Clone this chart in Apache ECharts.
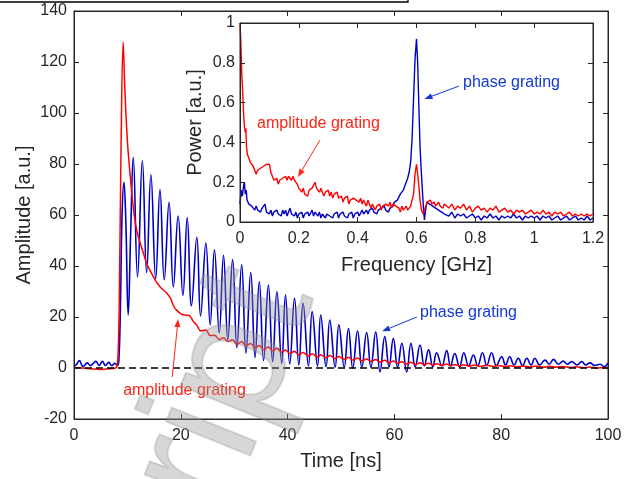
<!DOCTYPE html>
<html><head><meta charset="utf-8">
<script src="https://cdn.jsdelivr.net/npm/echarts@6/dist/echarts.min.js"></script>
<style>html,body{margin:0;padding:0;background:#fff}#c{width:636px;height:479px}</style>
</head><body><div id="c"></div>
<script>
// ---- main plot: Time [ns] vs Amplitude [a.u.] ----
const timeRange = [0, 100, 20];
const ampRange = [-20, 140, 20];
const phaseMain = [[0,0.6],[0.5,1.5],[1.0,2.9],[1.7,0.6],[2.5,2.0],[3.1,0.9],[3.6,1.8],[4.1,2.6],[4.7,1.0],[5.3,2.6],[5.9,1.0],[6.5,2.2],[7.1,0.9],[7.6,1.8],[8.1,1.0],[8.4,3],[8.7,25],[9.0,60],[9.35,72.8],[9.7,58],[10.15,20.8],[10.6,52],[11.1,82.6],[11.9,35.7],[12.8,81.4],[13.6,37.4],[14.4,75.8],[15.3,35.0],[16.1,70.0],[16.9,34.6],[17.8,65.0],[18.6,31.8],[19.5,59.6],[20.4,28.5],[21.2,59.0],[22.0,24.4],[23.0,51.3],[23.7,20.4],[24.7,49.0],[25.5,16.9],[26.3,46.4],[27.2,13.8],[28.0,44.2],[28.8,11.0],[29.7,42.5],[30.5,8.0],[31.4,40.6],[32.2,5.8],[33.1,37.4],[33.9,4.1],[34.7,33.8],[35.5,2.9],[36.4,32.5],[37.2,2.5],[38.0,29.9],[38.9,1.8],[39.6,28.6],[40.4,1.6],[41.3,27.3],[42.1,1.2],[42.9,25.4],[43.9,0.8],[44.6,22.1],[45.6,0.8],[46.2,20.8],[47.2,0.5],[47.9,18.8],[48.9,0.3],[49.6,16.9],[50.6,0.3],[51.4,15.5],[52.2,-0.1],[53.1,14.5],[53.9,0.3],[54.8,13.9],[55.6,0.3],[56.5,14.1],[57.3,-1.5],[58.2,12.3],[59.0,0.5],[59.8,11.6],[60.6,0.3],[61.4,9.7],[62.3,-1.5],[63.1,9.7],[63.9,0.5],[64.8,9.0],[65.6,0.8],[66.4,7.1],[67.2,0.5],[67.9,6.0],[68.9,0.8],[69.8,6.8],[70.5,0.8],[71.3,5.7],[72.2,0.5],[73.0,6.0],[73.9,0.8],[74.8,5.1],[75.6,0.8],[76.5,6.0],[77.3,1.0],[78.2,6.0],[79.1,1.0],[80.1,4.4],[80.8,1.2],[81.6,4.4],[82.4,1.2],[83.2,3.8],[84.0,1.0],[84.8,3.8],[85.6,1.2],[86.3,3.8],[87.2,1.2],[88.2,3.1],[89.0,1.5],[89.8,3.4],[90.7,1.5],[91.6,2.7],[92.4,1.5],[93.2,2.5],[94.2,1.2],[95.1,2.5],[95.8,1.2],[96.6,2.0],[97.5,1.0],[98.5,1.5],[99.3,0.5],[100,2.0]];
const amplitudeMain = [[0,0.2],[1,0.1],[2,-0.1],[3,-0.3],[4,-0.4],[5,-0.6],[6,-0.4],[7,-0.2],[7.8,0],[8.2,3],[8.5,30],[8.8,85],[9.2,127.8],[9.55,108],[10.0,89],[10.5,76],[11.1,63],[11.7,54.5],[12.4,49],[13.0,45],[13.6,41],[14.2,38.4],[15.2,34.5],[16.1,31.9],[17.4,29.3],[18.1,27.2],[18.6,24.5],[19.2,22.7],[20.2,21.0],[21.0,20.7],[21.7,20.4],[22.3,18.4],[23.0,16.8],[23.7,14.6],[24.7,14.9],[25.5,12.7],[26.3,12.8],[27.2,11.2],[28.0,11.9],[28.8,10.4],[29.7,11.1],[30.5,9.3],[31.4,10.4],[32.2,8.7],[33.1,9.6],[33.9,7.9],[34.7,8.8],[35.5,7.2],[36.4,8.2],[37.2,6.7],[38.0,7.7],[38.9,6.2],[39.6,7.1],[40.4,5.7],[41.3,6.6],[42.1,5.1],[42.9,6.1],[43.9,4.7],[44.6,5.6],[45.6,4.3],[46.2,5.2],[47.2,4.0],[47.9,4.9],[48.9,3.7],[49.6,4.5],[50.6,3.4],[51.4,4.2],[52.2,3.1],[53.1,3.9],[53.9,2.8],[54.8,3.5],[55.6,2.6],[56.5,3.3],[57.3,2.3],[58.2,3.0],[59.0,2.1],[59.8,2.7],[60.6,1.9],[61.4,2.5],[62.3,1.6],[63.1,2.3],[63.9,1.4],[64.8,2.1],[65.6,1.3],[66.4,1.9],[67.2,1.1],[67.9,1.7],[68.9,1.0],[69.8,1.6],[70.5,0.9],[71.3,1.4],[72.2,0.8],[73.0,1.3],[74.0,0.7],[75.0,1.2],[76.0,0.6],[77.3,1.1],[78.5,0.6],[79.5,1.0],[80.8,0.5],[81.6,0.9],[83.0,0.4],[84.0,0.8],[85.5,0.4],[86.5,0.8],[88.0,0.3],[89.0,0.7],[90.5,0.3],[91.5,0.6],[93.0,0.2],[94.0,0.5],[95.5,0.1],[96.5,0.4],[98.0,0.0],[99.0,0.2],[100,-0.3]];
const zeroLine = [[0,0],[100,0]];

// ---- inset: Frequency [GHz] vs Power [a.u.] ----
const freqRange = [0, 1.2, 0.2];
const powerRange = [0, 1, 0.2];
const amplitudeSpec = [[0,1.0],[0.003,0.9],[0.006,0.75],[0.009,0.66],[0.012,0.55],[0.015,0.48],[0.018,0.45],[0.02,0.47],[0.022,0.38],[0.025,0.34],[0.03,0.32],[0.035,0.30],[0.04,0.31],[0.045,0.28],[0.05,0.29],[0.055,0.24],[0.06,0.26],[0.065,0.25],[0.07,0.27],[0.075,0.26],[0.08,0.28],[0.085,0.27],[0.09,0.29],[0.095,0.28],[0.1,0.29],[0.105,0.25],[0.11,0.23],[0.115,0.21],[0.12,0.20],[0.125,0.22],[0.13,0.19],[0.135,0.21],[0.14,0.20],[0.145,0.22],[0.15,0.21],[0.155,0.23],[0.16,0.21],[0.165,0.23],[0.17,0.22],[0.175,0.21],[0.18,0.23],[0.185,0.21],[0.19,0.22],[0.195,0.19],[0.2,0.17],[0.205,0.18],[0.21,0.15],[0.215,0.17],[0.22,0.14],[0.225,0.15],[0.23,0.13],[0.235,0.16],[0.24,0.15],[0.245,0.17],[0.25,0.16],[0.255,0.20],[0.26,0.17],[0.265,0.18],[0.27,0.15],[0.275,0.17],[0.28,0.15],[0.285,0.13],[0.29,0.15],[0.295,0.14],[0.3,0.16],[0.305,0.13],[0.31,0.15],[0.315,0.12],[0.32,0.14],[0.325,0.13],[0.33,0.15],[0.335,0.12],[0.34,0.11],[0.345,0.13],[0.35,0.10],[0.355,0.12],[0.36,0.11],[0.365,0.13],[0.37,0.09],[0.375,0.11],[0.38,0.10],[0.385,0.12],[0.39,0.13],[0.395,0.11],[0.4,0.12],[0.405,0.10],[0.41,0.12],[0.415,0.09],[0.42,0.11],[0.425,0.10],[0.43,0.08],[0.435,0.11],[0.44,0.09],[0.445,0.07],[0.45,0.09],[0.455,0.08],[0.46,0.06],[0.465,0.08],[0.47,0.07],[0.475,0.09],[0.48,0.06],[0.485,0.08],[0.49,0.07],[0.495,0.09],[0.5,0.10],[0.505,0.08],[0.51,0.10],[0.515,0.07],[0.52,0.09],[0.525,0.10],[0.53,0.08],[0.535,0.09],[0.54,0.07],[0.545,0.05],[0.55,0.08],[0.555,0.06],[0.56,0.07],[0.565,0.08],[0.57,0.06],[0.575,0.07],[0.58,0.08],[0.585,0.09],[0.59,0.14],[0.595,0.24],[0.6,0.29],[0.603,0.28],[0.607,0.20],[0.612,0.11],[0.617,0.06],[0.622,0.04],[0.627,0.05],[0.632,0.08],[0.637,0.10],[0.642,0.09],[0.647,0.11],[0.652,0.09],[0.66,0.10],[0.665,0.08],[0.67,0.09],[0.675,0.10],[0.68,0.08],[0.685,0.09],[0.69,0.07],[0.695,0.09],[0.7,0.08],[0.71,0.07],[0.72,0.09],[0.73,0.06],[0.74,0.08],[0.75,0.07],[0.76,0.09],[0.77,0.06],[0.78,0.08],[0.79,0.05],[0.8,0.07],[0.81,0.08],[0.82,0.06],[0.83,0.07],[0.84,0.05],[0.85,0.07],[0.86,0.06],[0.87,0.08],[0.88,0.05],[0.89,0.06],[0.9,0.07],[0.91,0.05],[0.92,0.06],[0.93,0.04],[0.94,0.06],[0.95,0.05],[0.96,0.06],[0.97,0.04],[0.98,0.05],[0.99,0.06],[1.0,0.04],[1.01,0.05],[1.02,0.04],[1.03,0.06],[1.04,0.04],[1.05,0.05],[1.06,0.03],[1.07,0.05],[1.08,0.04],[1.09,0.05],[1.1,0.03],[1.11,0.04],[1.12,0.05],[1.13,0.03],[1.14,0.04],[1.15,0.03],[1.16,0.04],[1.17,0.03],[1.18,0.04],[1.19,0.03],[1.2,0.04]];
const phaseSpec = [[0,0.09],[0.004,0.16],[0.008,0.13],[0.012,0.18],[0.015,0.20],[0.018,0.14],[0.021,0.16],[0.024,0.11],[0.027,0.12],[0.03,0.09],[0.035,0.10],[0.04,0.08],[0.045,0.09],[0.05,0.06],[0.055,0.08],[0.06,0.06],[0.065,0.07],[0.07,0.05],[0.075,0.07],[0.08,0.06],[0.085,0.09],[0.09,0.05],[0.095,0.06],[0.1,0.04],[0.105,0.06],[0.11,0.03],[0.115,0.05],[0.12,0.04],[0.125,0.06],[0.13,0.04],[0.135,0.05],[0.14,0.03],[0.145,0.06],[0.15,0.04],[0.155,0.06],[0.16,0.03],[0.165,0.05],[0.17,0.07],[0.175,0.04],[0.18,0.05],[0.185,0.03],[0.19,0.05],[0.195,0.02],[0.2,0.04],[0.205,0.03],[0.21,0.05],[0.215,0.02],[0.22,0.04],[0.225,0.03],[0.23,0.05],[0.235,0.03],[0.24,0.04],[0.245,0.06],[0.25,0.03],[0.255,0.05],[0.26,0.06],[0.265,0.03],[0.27,0.05],[0.275,0.02],[0.28,0.04],[0.285,0.05],[0.29,0.02],[0.295,0.04],[0.3,0.05],[0.305,0.03],[0.31,0.04],[0.315,0.02],[0.32,0.04],[0.325,0.03],[0.33,0.05],[0.335,0.02],[0.34,0.04],[0.345,0.03],[0.35,0.05],[0.355,0.03],[0.36,0.04],[0.365,0.02],[0.37,0.04],[0.375,0.03],[0.38,0.05],[0.385,0.02],[0.39,0.04],[0.395,0.03],[0.4,0.05],[0.405,0.03],[0.41,0.04],[0.415,0.06],[0.42,0.04],[0.425,0.05],[0.43,0.06],[0.435,0.04],[0.44,0.06],[0.445,0.05],[0.45,0.07],[0.455,0.05],[0.46,0.06],[0.465,0.04],[0.47,0.06],[0.475,0.05],[0.48,0.07],[0.485,0.06],[0.49,0.08],[0.495,0.06],[0.5,0.07],[0.505,0.05],[0.51,0.07],[0.515,0.06],[0.52,0.08],[0.525,0.10],[0.53,0.09],[0.535,0.11],[0.54,0.12],[0.545,0.14],[0.55,0.13],[0.555,0.16],[0.56,0.18],[0.565,0.20],[0.57,0.22],[0.575,0.25],[0.58,0.30],[0.585,0.42],[0.59,0.62],[0.595,0.82],[0.6,0.92],[0.604,0.80],[0.608,0.58],[0.612,0.38],[0.616,0.26],[0.62,0.16],[0.624,0.06],[0.627,0.01],[0.63,0.05],[0.635,0.10],[0.64,0.11],[0.645,0.09],[0.65,0.10],[0.655,0.08],[0.66,0.09],[0.665,0.07],[0.67,0.08],[0.675,0.06],[0.68,0.07],[0.685,0.05],[0.69,0.06],[0.695,0.04],[0.7,0.05],[0.71,0.03],[0.72,0.05],[0.73,0.02],[0.74,0.04],[0.75,0.03],[0.76,0.04],[0.77,0.02],[0.78,0.03],[0.79,0.04],[0.8,0.02],[0.81,0.03],[0.82,0.01],[0.83,0.03],[0.84,0.02],[0.85,0.04],[0.86,0.02],[0.87,0.03],[0.88,0.01],[0.89,0.03],[0.9,0.02],[0.91,0.03],[0.92,0.02],[0.93,0.04],[0.94,0.02],[0.95,0.03],[0.96,0.01],[0.97,0.03],[0.98,0.02],[0.99,0.03],[1.0,0.02],[1.01,0.03],[1.02,0.01],[1.03,0.03],[1.04,0.02],[1.05,0.03],[1.06,0.01],[1.07,0.02],[1.08,0.03],[1.09,0.01],[1.1,0.02],[1.11,0.03],[1.12,0.01],[1.13,0.02],[1.14,0.03],[1.15,0.01],[1.16,0.02],[1.17,0.01],[1.18,0.03],[1.19,0.01],[1.2,0.02]];

// annotation anchors in data coordinates
const mainPhaseLabel = {text:'phase grating', at:[64.8,21.6], from:[64.2,20.0], to:[57.7,14.4]};
const mainAmpLabel = {text:'amplitude grating', at:[9.2,-9.0], from:[18.4,-3.5], to:[19.5,19.2]};
const insetPhaseLabel = {text:'phase grating', at:[0.758,0.703], from:[0.744,0.683], to:[0.627,0.618]};
const insetAmpLabel = {text:'amplitude grating', at:[0.058,0.492], from:[0.272,0.412], to:[0.197,0.226]};

const BLUE = '#0000c4', RED = '#ff0000', AX = '#262626';
const BLUE_T = '#1438d2', RED_T = '#ff2414';
const FONT = '"Liberation Sans", Arial, Helvetica, sans-serif';

function axisX(grid, range, name, show, gap) {
  return {type:'value', gridIndex:grid, min:range[0], max:range[1], interval:range[2],
    position: show ? 'bottom' : 'top',
    name: show ? name : '', nameLocation:'middle', nameGap:gap, nameMoveOverlap:false,
    nameTextStyle:{fontFamily:FONT, fontSize:20, color:AX},
    axisLine:{show:true, onZero:false, lineStyle:{color:AX, width:1}},
    axisTick:{show:true, inside:true, length:5, lineStyle:{color:AX, width:1}},
    axisLabel:{show:show, margin:9, fontFamily:FONT, fontSize:16, color:AX},
    splitLine:{show:false}, z:10};
}
function axisY(grid, range, name, show, gap, margin) {
  return {type:'value', gridIndex:grid, min:range[0], max:range[1], interval:range[2],
    position: show ? 'left' : 'right',
    name: show ? name : '', nameLocation:'middle', nameGap:gap, nameMoveOverlap:false,
    nameTextStyle:{fontFamily:FONT, fontSize:20, color:AX},
    axisLine:{show:true, onZero:false, lineStyle:{color:AX, width:1}},
    axisTick:{show:true, inside:true, length:5, lineStyle:{color:AX, width:1}},
    axisLabel:{show:show, margin:margin, fontFamily:FONT, fontSize:16, color:AX},
    splitLine:{show:false}, z:10};
}

const chart = echarts.init(document.getElementById('c'), null, {renderer:'canvas'});
chart.setOption({
  animation:false,
  backgroundColor:'#fff',
  grid:[
    {left:74, top:11, right:28, bottom:60, show:true, borderColor:AX, borderWidth:1, backgroundColor:'transparent', z:1},
    {left:240, top:23, right:43, bottom:257, show:true, borderColor:AX, borderWidth:1, backgroundColor:'transparent', z:1}
  ],
  xAxis:[
    axisX(0, timeRange, 'Time [ns]', true, 32),
    axisX(0, timeRange, '', false, 0),
    axisX(1, freqRange, 'Frequency [GHz]', true, 33),
    axisX(1, freqRange, '', false, 0)
  ],
  yAxis:[
    axisY(0, ampRange, 'Amplitude [a.u.]', true, 40, 7),
    axisY(0, ampRange, '', false, 0, 7),
    axisY(1, powerRange, 'Power [a.u.]', true, 35, 5),
    axisY(1, powerRange, '', false, 0, 5)
  ],
  series:[
    {type:'line', xAxisIndex:0, yAxisIndex:0, data:phaseMain, showSymbol:false, smooth:0.45,
      lineStyle:{color:BLUE, width:1.6}, z:3},
    {type:'line', xAxisIndex:0, yAxisIndex:0, data:amplitudeMain, showSymbol:false, smooth:0.35,
      lineStyle:{color:RED, width:1.5}, z:4},
    {type:'line', xAxisIndex:0, yAxisIndex:0, data:zeroLine, showSymbol:false,
      lineStyle:{color:'#000', width:1.3, type:[7,4]}, z:4},
    {type:'line', xAxisIndex:2, yAxisIndex:2, data:phaseSpec, showSymbol:false,
      lineStyle:{color:BLUE, width:1.4}, z:6},
    {type:'line', xAxisIndex:2, yAxisIndex:2, data:amplitudeSpec, showSymbol:false,
      lineStyle:{color:RED, width:1.4}, z:7}
  ]
});

function px(ax, p) { return chart.convertToPixel({xAxisIndex:ax, yAxisIndex:ax}, p); }
function arrow(p0, p1, color) {
  const dx=p1[0]-p0[0], dy=p1[1]-p0[1], L=Math.hypot(dx,dy), ux=dx/L, uy=dy/L;
  const hl=8, hw=3;
  const bx=p1[0]-ux*hl, by=p1[1]-uy*hl;
  return [
    {type:'line', z:20, shape:{x1:p0[0], y1:p0[1], x2:bx, y2:by}, style:{stroke:color, lineWidth:1}},
    {type:'polygon', z:20, shape:{points:[[p1[0],p1[1]],[bx-uy*hw,by+ux*hw],[bx+uy*hw,by-ux*hw]]}, style:{fill:color}}
  ];
}
function label(ax, a, color) {
  const p = px(ax, a.at);
  return [{type:'text', z:20, x:p[0], y:p[1], style:{text:a.text, fill:color, font:'16px '+FONT,
    textAlign:'left', align:'left', textVerticalAlign:'middle', verticalAlign:'middle'}}]
    .concat(arrow(px(ax, a.from), px(ax, a.to), color));
}
const g = [].concat(
  label(0, mainPhaseLabel, BLUE_T),
  label(0, mainAmpLabel, RED_T),
  label(2, insetPhaseLabel, BLUE_T),
  label(2, insetAmpLabel, RED_T)
);
// page header box fragment
g.push({type:'rect', z:20, shape:{x:-3, y:-10, width:411, height:12}, style:{fill:'none', stroke:'#000', lineWidth:1.3}});
// watermark
g.push({type:'text', z:30, x:270, y:280, rotation:68*Math.PI/180,
  style:{text:'Manuscript', fill:'rgba(150,150,150,0.38)', stroke:'rgba(120,120,120,0.25)', lineWidth:2,
    font:'172px '+FONT, textAlign:'right', align:'right', textVerticalAlign:'middle', verticalAlign:'middle'}});
chart.setOption({graphic:g});
</script></body></html>
